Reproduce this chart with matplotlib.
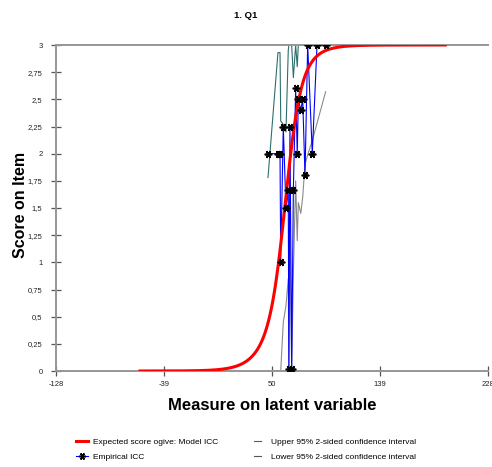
import numpy as np
import matplotlib
matplotlib.use("Agg")
import matplotlib.pyplot as plt
from matplotlib.lines import Line2D

plt.rcParams['font.family'] = ['Liberation Sans', 'DejaVu Sans']

# Empirical ICC: measure, observed average score, 95% confidence bounds
emp_measure = [46.7, 54.9, 56.6, 57.2, 59.3, 61.5, 63.4, 63.9, 64.8, 66.2, 67.6,
               69.5, 70.8, 71.7, 73.7, 75.3, 77.2, 79.4, 83.2, 87.1, 94.2]
emp_score = [2.0, 2.0, 2.0, 1.0, 2.25, 1.5, 1.667, 0.02, 2.25, 0.02, 1.667,
             2.6, 2.0, 2.5, 2.4, 2.5, 1.8, 3.0, 2.0, 3.0, 3.0]
upper_ci = [1.78, 2.93, 2.93, 2.3, 2.27, 2.2, 2.95, 3.0, 3.0, 3.0, 2.7,
            3.0, 2.8, 3.0, 3.0, 3.0, 3.0, 3.0, 3.0, 3.0, 3.0]
lower_ci = [0.0, 0.0, 0.0, 0.0, 0.45, 0.6, 0.85, 0.0, 1.3, 0.0, 0.9,
            1.75, 1.2, 1.55, 1.45, 1.6, 1.9, 1.99, 2.12, 2.28, 2.57]

# Partial-credit model: step thresholds (measure units) and units per logit
thresholds = [58.0, 65.0, 57.0]
units_per_logit = 12.0
model_range = (-60.0, 194.0)

x_ticks = [-128, -39, 50, 139, 228]
y_ticks = [0, 0.25, 0.5, 0.75, 1, 1.25, 1.5, 1.75, 2, 2.25, 2.5, 2.75, 3]
y_tick_labels = ['0', '0,25', '0,5', '0,75', '1', '1,25', '1,5', '1,75',
                 '2', '2,25', '2,5', '2,75', '3']


def expected_score(theta):
    theta = np.asarray(theta)[:, None]
    steps = (theta - np.asarray(thresholds)[None, :]) / units_per_logit
    psi = np.concatenate([np.zeros((theta.shape[0], 1)), np.cumsum(steps, axis=1)], axis=1)
    psi -= psi.max(axis=1, keepdims=True)
    p = np.exp(psi)
    p /= p.sum(axis=1, keepdims=True)
    return (p * np.arange(len(thresholds) + 1)[None, :]).sum(axis=1)


W, H = 492, 467
fig = plt.figure(figsize=(W / 100, H / 100), dpi=100)
ax = fig.add_axes([56 / W, 1 - 371 / H, 432 / W, 326 / H])

star = (6, 2, 90)

theta = np.linspace(model_range[0], model_range[1], 400)
ax.plot(theta, expected_score(theta), color='#FF0000', lw=2.2, zorder=5,
        solid_capstyle='butt')
ax.plot(emp_measure, upper_ci, color='#2E6E6E', lw=0.8, zorder=2)
ax.plot(emp_measure, lower_ci, color='#8A8A8A', lw=0.8, zorder=2)
ax.plot(emp_measure, emp_score, color='#0000FF', lw=0.8, zorder=3)
ax.plot(emp_measure, emp_score, ls='none', marker=star, ms=5.5,
        mec='black', mew=1.2, zorder=6)

ax.set_xlim(-128, 228)
ax.set_ylim(0, 3)
ax.set_xticks(x_ticks)
ax.set_xticklabels([str(t) for t in x_ticks])
ax.set_yticks(y_ticks)
ax.set_yticklabels(y_tick_labels)

spine_col = '#969696'
for side in ['left', 'bottom', 'top']:
    ax.spines[side].set_color(spine_col)
    ax.spines[side].set_linewidth(1.4)
ax.spines['right'].set_visible(False)
ax.tick_params(axis='both', direction='inout', length=6.5, width=0.9,
               color='#555555', labelsize=5.5, labelcolor='#222222')
ax.tick_params(axis='x', pad=4)
ax.tick_params(axis='y', pad=6.5)
ax.tick_params(top=False, right=False)

fig.text(246 / W, 1 - 15 / H, '1. Q1', ha='center', va='center',
         fontsize=6.8, fontweight='bold')
fig.text(272 / W, 1 - 406 / H, 'Measure on latent variable', ha='center',
         va='center', fontsize=12, fontweight='bold')
fig.text(20.5 / W, 1 - 205 / H, 'Score on Item', ha='center', va='center',
         rotation=90, fontsize=11.5, fontweight='bold')

h_model = Line2D([], [], color='#FF0000', lw=2.2)
h_emp = Line2D([], [], color='#0000FF', lw=0.8, marker=star, ms=5,
               mec='black', mew=1.1)
h_up = Line2D([], [], color='#2E6E6E', lw=0.8)
h_lo = Line2D([], [], color='#555555', lw=0.8)

leg_kw = dict(frameon=False, fontsize=6.0, borderpad=0, borderaxespad=0,
              labelspacing=0.85, loc='upper left')
leg1 = fig.legend([h_model, h_emp],
                  ['Expected score ogive: Model ICC', 'Empirical ICC'],
                  bbox_to_anchor=(76 / W, 1 - 438 / H), handlelength=1.4,
                  handletextpad=0.6, **leg_kw)
leg2 = fig.legend([h_up, h_lo],
                  ['Upper 95% 2-sided confidence interval',
                   'Lower 95% 2-sided confidence interval'],
                  bbox_to_anchor=(254 / W, 1 - 438 / H), handlelength=0.8,
                  handletextpad=1.2, **leg_kw)

fig.savefig('out.png', dpi=100)
